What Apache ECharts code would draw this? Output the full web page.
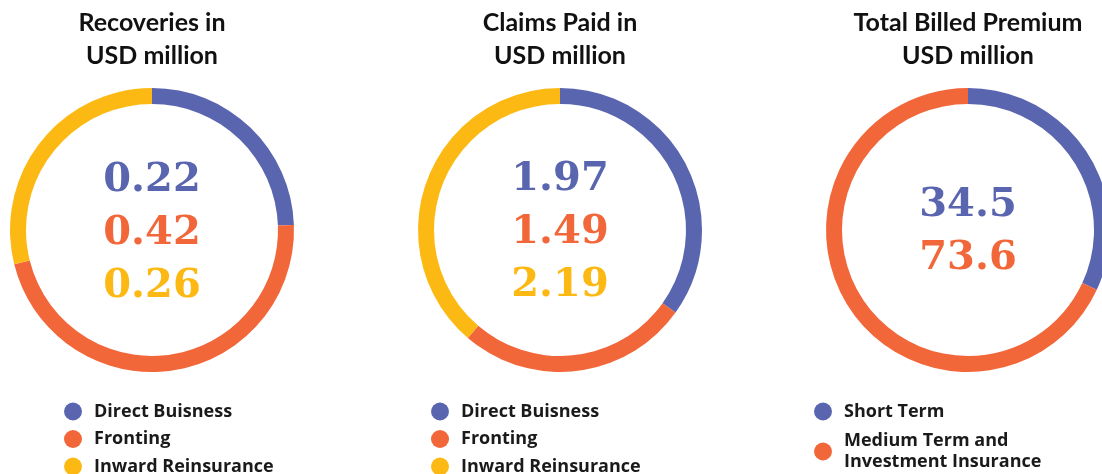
<!DOCTYPE html>
<html>
<head>
<meta charset="utf-8">
<script src="https://cdn.jsdelivr.net/npm/echarts@6/dist/echarts.min.js"></script>
<style>
  html, body { margin: 0; padding: 0; background: #fff; }
  #chart { width: 1102px; height: 474px; }
</style>
</head>
<body>
<div id="chart"></div>
<script>
// Panel headings
const panelTitles = ['Recoveries in\nUSD million', 'Claims Paid in\nUSD million', 'Total Billed Premium\nUSD million'];

// Recoveries (USD million)
const recoveryNames = ['Direct Buisness', 'Fronting', 'Inward Reinsurance'];
const recoveryValues = [0.22, 0.42, 0.26];

// Claims paid (USD million)
const claimNames = ['Direct Buisness', 'Fronting', 'Inward Reinsurance'];
const claimValues = [1.97, 1.49, 2.19];

// Total billed premium (USD million)
const premiumNames = ['Short Term', 'Medium Term and\nInvestment Insurance'];
const premiumValues = [34.5, 73.6];

const palette = ['#5965AF', '#F2673A', '#FDB913'];

const panels = [
  { names: recoveryNames, values: recoveryValues, cx: 152, numTop: 181, legendLeft: 64, legendTop: 401, gap: 6.5 },
  { names: claimNames, values: claimValues, cx: 560, numTop: 180, legendLeft: 431, legendTop: 401, gap: 6.5 },
  { names: premiumNames, values: premiumValues, cx: 968, numTop: 206, legendLeft: 814, legendTop: 401, gap: 8.5 }
];
const cy = 230;
const numStep = 53;

const chart = echarts.init(document.getElementById('chart'), null, { renderer: 'canvas' });

const series = [];
const legends = [];
const graphics = [];

panels.forEach((p, i) => {
  series.push({
    type: 'pie',
    center: [p.cx, cy],
    radius: [126, 142],
    startAngle: 90,
    clockwise: true,
    avoidLabelOverlap: false,
    silent: true,
    label: { show: false },
    labelLine: { show: false },
    emphasis: { disabled: true },
    data: p.names.map((n, k) => ({ name: n, value: p.values[k], itemStyle: { color: palette[k] } }))
  });

  legends.push({
    type: 'plain',
    orient: 'vertical',
    left: p.legendLeft,
    top: p.legendTop,
    width: 280,
    height: 120,
    padding: 0,
    itemGap: p.gap,
    itemWidth: 18,
    itemHeight: 18,
    icon: 'circle',
    selectedMode: false,
    data: p.names,
    textStyle: {
      fontFamily: 'Open Sans',
      fontWeight: 'bold',
      fontSize: 18,
      lineHeight: 21,
      color: '#1a1a1a',
      padding: [0, 0, 0, 7]
    }
  });

  graphics.push({
    type: 'text',
    x: p.cx,
    y: 6,
    style: {
      text: panelTitles[i],
      fontFamily: 'Lato',
      fontWeight: 'bold',
      fontSize: 25,
      lineHeight: 33,
      fill: '#111',
      textAlign: 'center',
      textVerticalAlign: 'top'
    }
  });

  p.values.forEach((v, k) => {
    graphics.push({
      type: 'text',
      x: p.cx,
      y: p.numTop + k * numStep,
      style: {
        text: String(v),
        fontFamily: 'DejaVu Serif',
        fontWeight: 'bold',
        fontSize: 40,
        fill: palette[k],
        textAlign: 'center',
        textVerticalAlign: 'middle'
      }
    });
  });
});

chart.setOption({
  backgroundColor: '#ffffff',
  animation: false,
  legend: legends,
  series: series,
  graphic: graphics
});
</script>
</body>
</html>
